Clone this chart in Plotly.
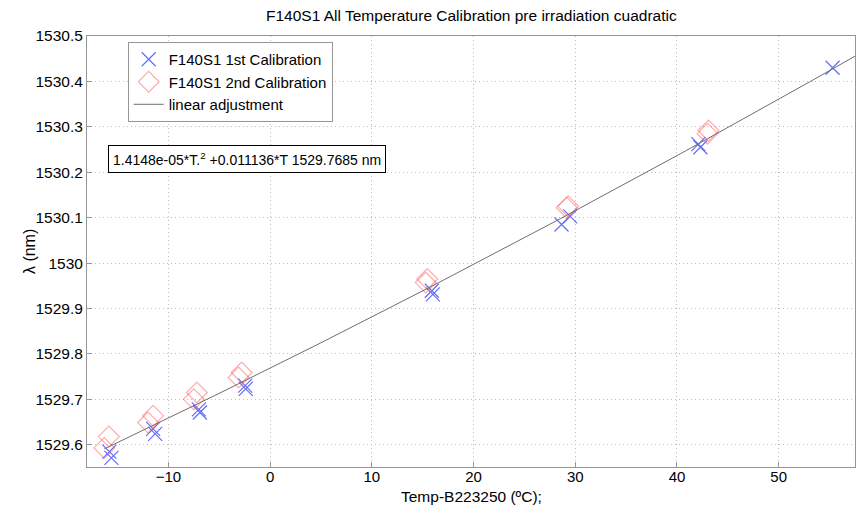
import numpy as np
import plotly.graph_objects as go

# 1st calibration (blue x)
temp_cal1 = [-15.8, -15.6, -11.5, -11.3, -7.0, -6.9, -2.45, -2.4, 15.9, 16.0,
             28.65, 29.5, 42.1, 42.3, 55.3]
wl_cal1 = [1529.585, 1529.571, 1529.635, 1529.624, 1529.678, 1529.671, 1529.730,
           1529.723, 1529.939, 1529.931, 1530.085, 1530.103, 1530.262, 1530.255, 1530.430]

# 2nd calibration (red diamonds)
temp_cal2 = [-16.3, -15.85, -12.0, -11.5, -7.5, -7.2, -3.1, -2.8, 15.3, 15.45,
             29.15, 29.3, 43.0, 43.1]
wl_cal2 = [1529.593, 1529.618, 1529.649, 1529.664, 1529.700, 1529.715, 1529.748,
           1529.759, 1529.957, 1529.965, 1530.122, 1530.125, 1530.285, 1530.292]

# quadratic fit coefficients (as printed on chart)
coef_a = 1.4148e-05
coef_b = 0.011136
coef_c = 1529.7685
fit_t_start = -16.3
fit_t_end = 58.0

x_ticks = [-10, 0, 10, 20, 30, 40, 50]
y_ticks = [1529.6, 1529.7, 1529.8, 1529.9, 1530.0, 1530.1, 1530.2, 1530.3, 1530.4, 1530.5]
y_ticklabels = ["1529.6", "1529.7", "1529.8", "1529.9", "1530", "1530.1", "1530.2",
                "1530.3", "1530.4", "1530.5"]

FONT = "Liberation Sans, Arial, sans-serif"

t_fit = np.linspace(fit_t_start, fit_t_end, 200)
wl_fit = coef_a * t_fit**2 + coef_b * t_fit + coef_c

fig = go.Figure()
fig.add_trace(go.Scatter(
    x=temp_cal1, y=wl_cal1, mode="markers", name="F140S1 1st Calibration",
    marker=dict(symbol="x-thin-open", size=14,
                line=dict(color="rgba(60,60,255,0.33)", width=1.2)),
))
fig.add_trace(go.Scatter(
    x=temp_cal2, y=wl_cal2, mode="markers", name="F140S1 2nd Calibration",
    marker=dict(symbol="diamond-open", size=16, color="rgba(255,70,70,0.45)",
                line=dict(color="rgba(255,70,70,0.45)", width=1.2)),
))
fig.add_trace(go.Scatter(
    x=t_fit, y=wl_fit, mode="lines", name="linear adjustment",
    line=dict(color="rgb(110,110,110)", width=1),
))

axis_common = dict(
    showline=True, mirror=True, linecolor="rgb(150,150,150)", linewidth=1,
    ticks="inside", ticklen=5, tickcolor="rgb(150,150,150)",
    showgrid=True, gridcolor="rgb(190,190,190)", griddash="1px,3px", gridwidth=1,
    zeroline=False,
)

fig.update_xaxes(range=[-18.0, 57.5], tickvals=x_ticks, ticklabelstandoff=-4,
                 tickfont=dict(family=FONT, size=15, color="black"), **axis_common)
fig.update_yaxes(range=[1529.551, 1530.5], tickvals=y_ticks, ticktext=y_ticklabels,
                 tickfont=dict(family=FONT, size=15.5, color="black"), **axis_common)

fig.update_layout(
    width=861, height=509,
    margin=dict(l=87, r=6, t=36, b=42),
    paper_bgcolor="white", plot_bgcolor="white",
    font=dict(family=FONT, size=15, color="black"),
    showlegend=True,
    legend=dict(
        x=0.053, y=0.986, xanchor="left", yanchor="top",
        bgcolor="white", bordercolor="rgb(150,150,150)", borderwidth=1,
        font=dict(family=FONT, size=15, color="black"),
        itemwidth=30, tracegroupgap=0,
    ),
    annotations=[
        dict(text="F140S1 All Temperature Calibration pre irradiation cuadratic",
             xref="paper", yref="paper", x=0.5, y=1.0, yshift=21,
             xanchor="center", yanchor="middle", showarrow=False,
             font=dict(family=FONT, size=15.5, color="black")),
        dict(text="1.4148e-05*T.<sup>2</sup> +0.011136*T 1529.7685 nm",
             xref="paper", yref="paper", x=0.0276, y=0.748,
             xanchor="left", yanchor="top", showarrow=False,
             bgcolor="white", bordercolor="black", borderwidth=1, borderpad=4,
             font=dict(family=FONT, size=14, color="black")),
        dict(text="λ (nm)", xref="paper", yref="paper", x=-0.0748, y=0.5,
             xanchor="center", yanchor="middle", textangle=-90, showarrow=False,
             font=dict(family=FONT, size=16, color="black")),
        dict(text="Temp-B223250 (ºC);", xref="paper", yref="paper", x=0.5, y=-0.068,
             xanchor="center", yanchor="middle", showarrow=False,
             font=dict(family=FONT, size=15.5, color="black")),
    ],
)

fig.write_html(
    "out.html",
    config={"displayModeBar": False},
    post_script="document.body.style.margin='0';document.body.style.overflow='hidden';",
)
